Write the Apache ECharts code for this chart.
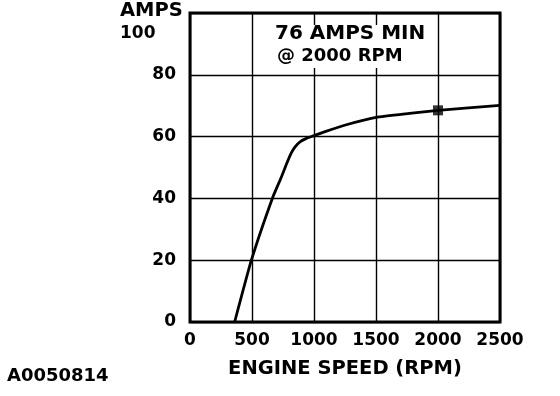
<!DOCTYPE html>
<html>
<head>
<meta charset="utf-8">
<script src="https://cdn.jsdelivr.net/npm/echarts@6/dist/echarts.min.js"></script>
<style>html,body{margin:0;padding:0;background:#fff;}#c{width:560px;height:396px;}</style>
</head>
<body>
<div id="c"></div>
<script>
var rpm  = [360, 495, 664, 738, 779, 814, 846, 887, 943, 1000, 1090, 1240, 1500, 1770, 2000, 2500];
var amps = [0, 20, 40, 47, 51.2, 54.5, 56.6, 58.3, 59.5, 60.3, 61.6, 63.6, 66.2, 67.5, 68.5, 70.1];
var markRpm = [2000];
var markAmps = [68.5];
var xTicks = [0, 500, 1000, 1500, 2000, 2500];
var yTicks = [0, 20, 40, 60, 80, 100];
var yUnit = 'AMPS';
var xTitle = 'ENGINE SPEED (RPM)';
var noteLine1 = '76 AMPS MIN';
var noteLine2 = '@ 2000 RPM';
var figId = 'A0050814';

var FONT = '"DejaVu Sans", "Liberation Sans", Arial, sans-serif';
var chart = echarts.init(document.getElementById('c'));
chart.setOption({
  animation: false,
  backgroundColor: '#fff',
  grid: {left: 190, top: 13, right: 60, bottom: 74, show: true, borderColor: '#000', borderWidth: 3, backgroundColor: 'transparent'},
  xAxis: {
    type: 'value', min: xTicks[0], max: xTicks[xTicks.length - 1], interval: 500,
    name: xTitle, nameLocation: 'middle', nameGap: 37,
    nameTextStyle: {fontFamily: FONT, fontWeight: 'bold', fontSize: 19.5, color: '#000'},
    axisLine: {show: false}, axisTick: {show: false},
    axisLabel: {fontFamily: FONT, fontWeight: 'bold', fontSize: 17, color: '#000', margin: 10, showMaxLabel: true, showMinLabel: true,
      formatter: function (v) { return String(v); }},
    splitLine: {show: true, lineStyle: {color: '#000', width: 1.4}}
  },
  yAxis: {
    type: 'value', min: yTicks[0], max: yTicks[yTicks.length - 1], interval: 20,
    axisLine: {show: false}, axisTick: {show: false},
    axisLabel: {fontFamily: FONT, fontWeight: 'bold', fontSize: 17, color: '#000', margin: 14,
      formatter: function (v) { return v === yTicks[yTicks.length - 1] ? '' : String(v); }},
    splitLine: {show: true, lineStyle: {color: '#000', width: 1.4}}
  },
  graphic: [
    {type: 'text', left: 120, top: 1, style: {text: yUnit, font: 'bold 19.5px ' + FONT, fill: '#000'}},
    {type: 'text', left: 120, top: 25, style: {text: String(yTicks[yTicks.length - 1]), font: 'bold 17px ' + FONT, fill: '#000'}},
    {type: 'rect', shape: {x: 270, y: 25, width: 162, height: 43}, style: {fill: '#fff'}, z: 10},
    {type: 'text', left: 275, top: 24, z: 11, style: {text: noteLine1, font: 'bold 20px ' + FONT, fill: '#000'}},
    {type: 'text', left: 277, top: 47, z: 11, style: {text: noteLine2, font: 'bold 18px ' + FONT, fill: '#000'}},
    {type: 'text', left: 7, top: 367, style: {text: figId, font: 'bold 18px ' + FONT, fill: '#000'}}
  ],
  series: [
    {type: 'line', data: rpm.map(function (r, i) { return [r, amps[i]]; }), smooth: 0.15, showSymbol: false,
     lineStyle: {color: '#000', width: 2.8, join: 'round'}, z: 5},
    {type: 'scatter', data: markRpm.map(function (r, i) { return [r, markAmps[i]]; }), symbol: 'rect', symbolSize: 10,
     itemStyle: {color: '#000'}, z: 6}
  ]
});
</script>
</body>
</html>
